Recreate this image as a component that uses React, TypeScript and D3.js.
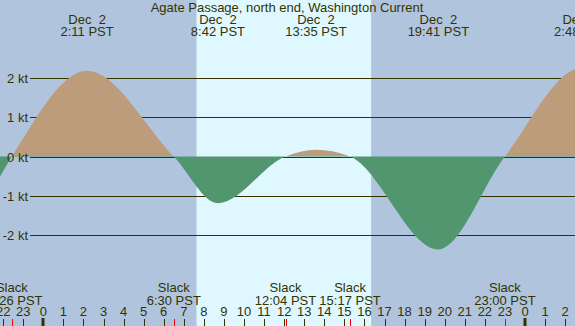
import React from 'react';
import * as d3 from 'd3';

// hours are counted from midnight Dec 2 (negative = Dec 1, >24 = Dec 3)
const slackHours = [-1.567, 6.5, 12.067, 15.283, 23.0];
const slackLabels = ['22:26 PST', '6:30 PST', '12:04 PST', '15:17 PST', '23:00 PST'];

const maxHours = [2.183, 8.7, 13.583, 19.683, 26.8];
const maxKnots = [2.19, -1.19, 0.17, -2.37, 2.25];
const maxDates = ['Dec  2', 'Dec  2', 'Dec  2', 'Dec  2', 'Dec  3'];
const maxLabels = ['2:11 PST', '8:42 PST', '13:35 PST', '19:41 PST', '2:48 PST'];

// events just outside the window, estimated so the edges look right
const edgeHours = [-3.4, 30.3];
const edgeKnots = [-1.7, 0];

const sunrise = 7.633;
const sunset = 16.333;

const ktTicks = [2, 1, 0, -1, -2];
const hourTicks = d3.range(-2, 27);

const W = 575;
const H = 326;
const TEXT = '#333300';
const FONT = '"Liberation Sans", Arial, sans-serif';

export default function App() {
  const x = d3.scaleLinear().domain([-2.157, 26.49]).range([0, W]);
  const y = d3.scaleLinear().domain([0, 2]).range([156.5, 78.1]);

  const pts: [number, number][] = [
    ...slackHours.map((h) => [h, 0] as [number, number]),
    ...maxHours.map((h, i) => [h, maxKnots[i]] as [number, number]),
    ...edgeHours.map((h, i) => [h, edgeKnots[i]] as [number, number]),
  ].sort((a, b) => a[0] - b[0]);

  const area = d3
    .area<[number, number]>()
    .x((d) => x(d[0]))
    .y0(y(0))
    .y1((d) => y(d[1]))
    .curve(d3.curveMonotoneX);
  const path = area(pts) || '';
  const zeroY = Math.floor(y(0));

  return (
    <svg
      width={W}
      height={H}
      style={{ position: 'fixed', left: 0, top: 0, fontFamily: FONT }}
    >
      <defs>
        <clipPath id="above">
          <rect x={0} y={0} width={W} height={zeroY} />
        </clipPath>
        <clipPath id="below">
          <rect x={0} y={zeroY} width={W} height={H - zeroY} />
        </clipPath>
      </defs>
      <rect x={0} y={0} width={W} height={H} fill="#b0c4de" />
      <rect x={x(sunrise)} y={0} width={x(sunset) - x(sunrise)} height={H} fill="#dff8ff" />

      {ktTicks.map((k) => (
        <line
          key={k}
          x1={30}
          x2={W}
          y1={Math.round(y(k)) + 0.5}
          y2={Math.round(y(k)) + 0.5}
          stroke={TEXT}
          strokeWidth={1}
        />
      ))}

      <path d={path} fill="#bd9c7b" clipPath="url(#above)" />
      <path d={path} fill="#529670" clipPath="url(#below)" />

      {ktTicks.map((k) => (
        <text key={k} x={28} y={Math.round(y(k)) + 4.5} textAnchor="end" fontSize={13} fill={TEXT}>
          {k} kt
        </text>
      ))}

      <text x={287} y={12} textAnchor="middle" fontSize={13} fill={TEXT}>
        Agate Passage, north end, Washington Current
      </text>

      {maxHours.map((h, i) => (
        <g key={i} fill={TEXT} fontSize={13} textAnchor="middle">
          <text x={x(h)} y={24} xmlSpace="preserve">{maxDates[i]}</text>
          <text x={x(h)} y={36}>{maxLabels[i]}</text>
        </g>
      ))}

      {slackHours.map((h, i) => (
        <g key={i} fill={TEXT} fontSize={13} textAnchor="middle">
          <text x={x(h)} y={292}>Slack</text>
          <text x={x(h)} y={304.5}>{slackLabels[i]}</text>
        </g>
      ))}

      {hourTicks.map((h) => {
        const px = Math.round(x(h));
        const midnight = h % 24 === 0;
        return (
          <g key={h}>
            <text x={x(h)} y={316} textAnchor="middle" fontSize={13} fill={TEXT}>
              {((h % 24) + 24) % 24}
            </text>
            {midnight ? (
              <rect x={px - 1.5} y={318} width={3} height={8} fill={TEXT} />
            ) : (
              <line x1={px + 0.5} x2={px + 0.5} y1={319} y2={H} stroke={TEXT} />
            )}
          </g>
        );
      })}

      {slackHours.map((h, i) => (
        <line
          key={i}
          x1={Math.round(x(h)) + 0.5}
          x2={Math.round(x(h)) + 0.5}
          y1={319}
          y2={H}
          stroke="red"
        />
      ))}
    </svg>
  );
}
